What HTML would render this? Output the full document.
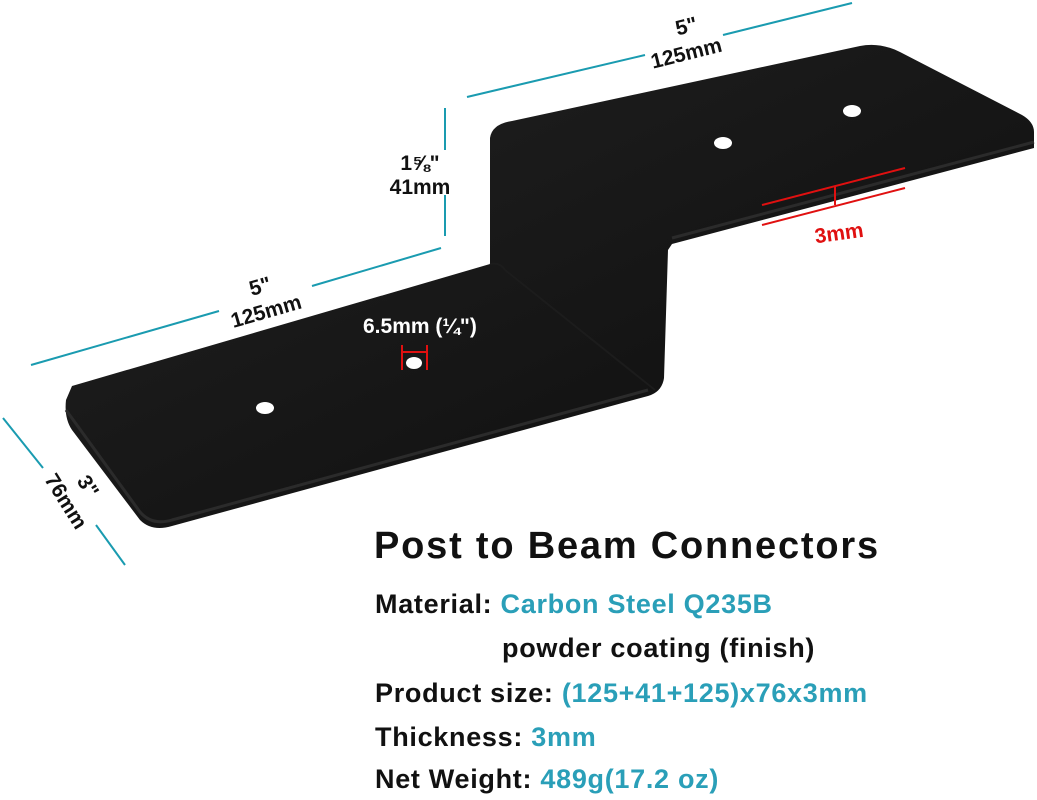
<!DOCTYPE html>
<html><head><meta charset="utf-8"><style>
body{margin:0;background:#fff;width:1037px;height:800px;overflow:hidden;position:relative;font-family:"Liberation Sans",Arial,sans-serif}
.t{position:absolute;font-weight:bold;font-size:27px;letter-spacing:0.7px;color:#111;white-space:nowrap;line-height:1}
.c{color:#2a9fb8}
</style></head><body>
<svg width="1037" height="800" style="position:absolute;left:0;top:0">
<defs><linearGradient id="g" x1="0" y1="0" x2="1" y2="1"><stop offset="0" stop-color="#222"/><stop offset="1" stop-color="#0c0c0c"/></linearGradient></defs>
<path d="M72,386 L490,264 L490,138 Q492,124 512,121 L860,46 Q880,42 900,52 L1022,115 Q1034,122 1034,132 L1034,148 L672,244 L668,250 L664,378 Q662,392 648,396 L172,526 Q152,532 140,520 L72,430 Q64,418 66,400 Z" fill="url(#g)"/>
<path d="M66,410 L140,512 Q152,526 172,520 L648,390" fill="none" stroke="#2b2b2b" stroke-width="3"/>
<path d="M1034,142 L672,238" stroke="#2b2b2b" stroke-width="3"/>
<path d="M490,264 Q500,262 505,270 L655,390" stroke="#1c1c1c" stroke-width="2" fill="none"/>
<ellipse cx="723" cy="143" rx="9" ry="6" fill="#fff"/>
<ellipse cx="852" cy="111" rx="9" ry="6" fill="#fff"/>
<ellipse cx="414" cy="363" rx="8" ry="6" fill="#fff"/>
<ellipse cx="265" cy="408" rx="9" ry="6" fill="#fff"/>
<g stroke="#1a9bb0" stroke-width="2">
<line x1="467" y1="97" x2="645" y2="55"/><line x1="723" y1="35" x2="852" y2="3"/>
<line x1="445" y1="108" x2="445" y2="150"/><line x1="445" y1="195" x2="445" y2="236"/>
<line x1="31" y1="365" x2="219" y2="311"/><line x1="312" y1="286" x2="441" y2="248"/>
<line x1="3" y1="418" x2="43" y2="468"/><line x1="96" y1="525" x2="125" y2="565"/>
</g>
<g stroke="#e01010" stroke-width="2">
<line x1="402" y1="345" x2="402" y2="370"/><line x1="427" y1="345" x2="427" y2="370"/><line x1="402" y1="352" x2="427" y2="352"/>
<line x1="762" y1="205" x2="905" y2="168"/><line x1="762" y1="225" x2="905" y2="188"/><line x1="835" y1="186" x2="835" y2="205"/>
</g>
<g font-family="Liberation Sans Narrow, Liberation Sans, sans-serif" font-weight="bold" font-size="21" fill="#111">
<text transform="translate(688,33) rotate(-14)" text-anchor="middle">5"</text>
<text transform="translate(688,60) rotate(-14)" text-anchor="middle">125mm</text>
<text x="420" y="170" text-anchor="middle">1⅝"</text>
<text x="420" y="194" text-anchor="middle">41mm</text>
<text transform="translate(262,293) rotate(-16)" text-anchor="middle">5"</text>
<text transform="translate(268,318) rotate(-16)" text-anchor="middle">125mm</text>
<text transform="translate(82,490) rotate(58)" text-anchor="middle">3"</text>
<text transform="translate(60,505) rotate(58)" text-anchor="middle">76mm</text>
<text x="363" y="333" fill="#fff">6.5mm (¼")</text>
<text transform="translate(840,240) rotate(-8)" text-anchor="middle" fill="#e01010">3mm</text>
</g>
</svg>
<div class="t" style="left:374px;top:527px;font-size:38px;font-weight:900;letter-spacing:1.8px">Post to Beam Connectors</div>
<div class="t" style="left:375px;top:591px">Material: <span class="c">Carbon Steel Q235B</span></div>
<div class="t" style="left:502px;top:635px">powder coating (finish)</div>
<div class="t" style="left:375px;top:680px">Product size: <span class="c">(125+41+125)x76x3mm</span></div>
<div class="t" style="left:375px;top:724px">Thickness: <span class="c">3mm</span></div>
<div class="t" style="left:375px;top:766px">Net Weight: <span class="c">489g(17.2 oz)</span></div>
</body></html>
